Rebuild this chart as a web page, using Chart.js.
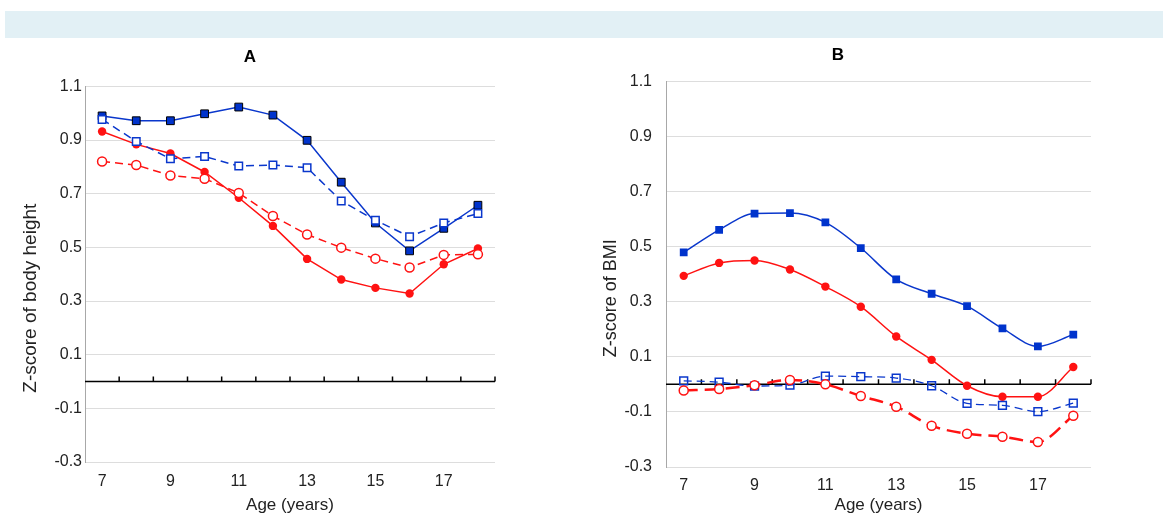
<!DOCTYPE html>
<html lang="en">
<head>
    <meta charset="UTF-8">
    <title>Z-score of body height and BMI by age</title>
    <script src="https://cdn.jsdelivr.net/npm/chart.js"></script>
    <style>
        body {
            margin: 0;
            width: 1163px;
            height: 516px;
            background: #fff;
            position: relative;
            overflow: hidden;
            font-family: "Liberation Sans", Arial, sans-serif;
        }
        .band {
            position: absolute;
            left: 5px;
            top: 11px;
            width: 1158px;
            height: 27px;
            background-color: #e2f0f5;
        }
        .panel {
            position: absolute;
            top: 38px;
            height: 478px;
        }
        #panelA { left: 5px; width: 510px; }
        #panelB { left: 585px; width: 528px; }
    </style>
</head>
<body>
    <div class="band"></div>
    <div class="panel" id="panelA"><canvas id="chartA"></canvas></div>
    <div class="panel" id="panelB"><canvas id="chartB"></canvas></div>

    <script>
        // ages on the x axis
        const ages = ['7', '8', '9', '10', '11', '12', '13', '14', '15', '16', '17', '18'];
        const yTicks = [-0.3, -0.1, 0.1, 0.3, 0.5, 0.7, 0.9, 1.1];

        // panel A: z-score of body height
        const heightBlueFilled = [0.99, 0.972, 0.972, 0.998, 1.023, 0.993, 0.899, 0.743, 0.591, 0.487, 0.571, 0.657];
        const heightBlueOpen = [0.977, 0.895, 0.83, 0.839, 0.803, 0.807, 0.797, 0.673, 0.601, 0.54, 0.591, 0.626];
        const heightRedFilled = [0.932, 0.884, 0.85, 0.781, 0.685, 0.58, 0.457, 0.38, 0.349, 0.328, 0.437, 0.496];
        const heightRedOpen = [0.82, 0.807, 0.768, 0.756, 0.703, 0.617, 0.548, 0.499, 0.458, 0.425, 0.472, 0.474];

        // panel B: z-score of BMI
        const bmiBlueFilled = [0.479, 0.561, 0.62, 0.622, 0.588, 0.495, 0.381, 0.329, 0.284, 0.203, 0.138, 0.181];
        const bmiRedFilled = [0.394, 0.441, 0.45, 0.417, 0.355, 0.282, 0.174, 0.089, -0.005, -0.045, -0.045, 0.063];
        const bmiBlueOpen = [0.013, 0.008, -0.006, -0.003, 0.03, 0.028, 0.023, -0.005, -0.069, -0.076, -0.099, -0.068];
        const bmiRedOpen = [-0.022, -0.017, -0.003, 0.016, 0.0, -0.042, -0.081, -0.15, -0.179, -0.19, -0.209, -0.114];

        const BLUE = '#0a37cc';
        const RED = '#ff1212';
        const FONT = '"Liberation Sans", Arial, sans-serif';

        // black line at zero with small ticks between the ages
        const zeroLine = {
            id: 'zeroLine',
            beforeDatasetsDraw(chart) {
                const {ctx, chartArea, scales} = chart;
                const y0 = scales.y.getPixelForValue(0);
                ctx.save();
                ctx.strokeStyle = '#000';
                ctx.lineWidth = 1.5;
                ctx.beginPath();
                ctx.moveTo(chartArea.left, y0);
                ctx.lineTo(chartArea.right, y0);
                for (let i = 0; i < ages.length; i++) {
                    let x = i < ages.length - 1
                        ? (scales.x.getPixelForValue(i) + scales.x.getPixelForValue(i + 1)) / 2
                        : chartArea.right;
                    ctx.moveTo(x, y0);
                    ctx.lineTo(x, y0 - 5);
                }
                ctx.stroke();
                ctx.restore();
            }
        };

        // y title sits a bit lower than the middle of the axis
        const yTitle = {
            id: 'yTitle',
            afterDraw(chart, args, opts) {
                const ctx = chart.ctx;
                const mid = (chart.chartArea.top + chart.chartArea.bottom) / 2 + opts.shift;
                ctx.save();
                ctx.translate(opts.x, mid);
                ctx.rotate(-Math.PI / 2);
                ctx.font = opts.size + 'px ' + FONT;
                ctx.fillStyle = '#222';
                ctx.textAlign = 'center';
                ctx.textBaseline = 'middle';
                ctx.fillText(opts.text, 0, 0);
                ctx.restore();
            }
        };

        function makeChart(id, cfg) {
            const ctx = document.getElementById(id).getContext('2d');
            return new Chart(ctx, {
                type: 'line',
                data: {
                    labels: ages,
                    datasets: cfg.datasets
                },
                options: {
                    responsive: true,
                    maintainAspectRatio: false,
                    animation: false,
                    layout: {
                        padding: { left: 0, right: cfg.padRight, top: 0, bottom: 0 }
                    },
                    elements: {
                        line: { tension: cfg.tension, cubicInterpolationMode: cfg.interp }
                    },
                    plugins: {
                        legend: { display: false },
                        tooltip: { enabled: false },
                        title: {
                            display: true,
                            text: cfg.title,
                            color: '#000',
                            font: { family: FONT, size: 17, weight: 'bold' },
                            padding: cfg.titlePad
                        },
                        yTitle: cfg.yTitle
                    },
                    scales: {
                        x: {
                            type: 'category',
                            offset: true,
                            grid: { display: false },
                            border: { display: false },
                            ticks: {
                                autoSkip: false,
                                maxRotation: 0,
                                padding: cfg.xTickPad,
                                color: '#222',
                                font: { family: FONT, size: 16 },
                                callback: (v, i) => i % 2 === 0 ? ages[i] : ''
                            },
                            title: {
                                display: true,
                                text: 'Age (years)',
                                color: '#222',
                                font: { family: FONT, size: 17 },
                                padding: { top: 0, bottom: 0 }
                            },
                            afterFit: s => { s.height = cfg.xHeight; }
                        },
                        y: {
                            min: yTicks[0],
                            max: yTicks[yTicks.length - 1],
                            ticks: {
                                stepSize: 0.2,
                                padding: cfg.yTickPad,
                                color: '#222',
                                font: { family: FONT, size: 16 },
                                callback: v => v.toFixed(1)
                            },
                            grid: { color: '#dddddd', lineWidth: 1, drawTicks: false },
                            border: { display: true, color: '#a8a8a8', width: 1 },
                            afterFit: s => { s.width = cfg.yWidth; }
                        }
                    }
                },
                plugins: [zeroLine, yTitle]
            });
        }

        makeChart('chartA', {
            title: 'A',
            titlePad: { top: 9, bottom: 19 },
            padRight: 20,
            xHeight: 54,
            xTickPad: 2,
            yWidth: 80,
            yTickPad: 3,
            tension: 0,
            interp: 'default',
            yTitle: { text: 'Z-score of body height', x: 26, shift: 24, size: 19 },
            datasets: [
                {
                    data: heightRedOpen, borderColor: RED, borderWidth: 1.5, borderDash: [8, 5],
                    pointStyle: 'circle', pointRadius: 4.5, pointBorderWidth: 1.5,
                    pointBackgroundColor: '#fff', pointBorderColor: RED
                },
                {
                    data: heightBlueOpen, borderColor: BLUE, borderWidth: 1.5, borderDash: [8, 5],
                    pointStyle: 'rect', pointRadius: 5.3, pointBorderWidth: 1.5,
                    pointBackgroundColor: '#fff', pointBorderColor: BLUE
                },
                {
                    data: heightRedFilled, borderColor: RED, borderWidth: 1.5,
                    pointStyle: 'circle', pointRadius: 4.2, pointBorderWidth: 0,
                    pointBackgroundColor: RED, pointBorderColor: RED
                },
                {
                    data: heightBlueFilled, borderColor: BLUE, borderWidth: 1.5,
                    pointStyle: 'rect', pointRadius: 5.5, pointBorderWidth: 1,
                    pointBackgroundColor: '#0033cc', pointBorderColor: '#000'
                }
            ]
        });

        makeChart('chartB', {
            title: 'B',
            titlePad: { top: 7, bottom: 16 },
            padRight: 22,
            xHeight: 49,
            xTickPad: 1,
            yWidth: 81,
            yTickPad: 14,
            tension: 0.4,
            interp: 'monotone',
            yTitle: { text: 'Z-score of BMI', x: 26, shift: 24, size: 18 },
            datasets: [
                {
                    data: bmiRedOpen, borderColor: RED, borderWidth: 2.5, borderDash: [14, 7],
                    pointStyle: 'circle', pointRadius: 4.5, pointBorderWidth: 1.5,
                    pointBackgroundColor: '#fff', pointBorderColor: RED
                },
                {
                    data: bmiBlueOpen, borderColor: BLUE, borderWidth: 1.3, borderDash: [8, 5],
                    pointStyle: 'rect', pointRadius: 5.5, pointBorderWidth: 1.5,
                    pointBackgroundColor: 'rgba(255,255,255,0)', pointBorderColor: BLUE
                },
                {
                    data: bmiRedFilled, borderColor: RED, borderWidth: 1.5,
                    pointStyle: 'circle', pointRadius: 4.2, pointBorderWidth: 0,
                    pointBackgroundColor: RED, pointBorderColor: RED
                },
                {
                    data: bmiBlueFilled, borderColor: BLUE, borderWidth: 1.5,
                    pointStyle: 'rect', pointRadius: 5.5, pointBorderWidth: 0,
                    pointBackgroundColor: '#0033cc', pointBorderColor: '#0033cc'
                }
            ]
        });
    </script>
</body>
</html>
